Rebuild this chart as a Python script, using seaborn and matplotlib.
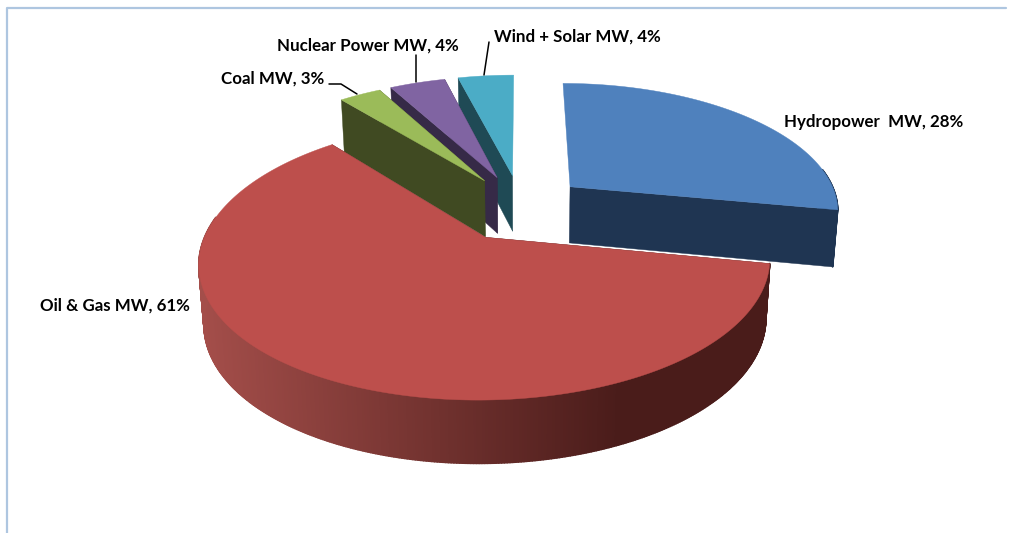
import numpy as np
import matplotlib.pyplot as plt
import seaborn as sns
from matplotlib.collections import PolyCollection
from matplotlib.colors import to_rgb

# chart values
sources = ["Hydropower  MW", "Oil & Gas MW", "Coal MW", "Nuclear Power MW", "Wind + Solar MW"]
shares = [28, 61, 3, 4, 4]
top_colors = ["#4f81bd", "#bd4f4c", "#9bbb59", "#8064a2", "#4bacc6"]
wall_colors = ["#1f3552", "#4c1d1b", "#404a22", "#362a47", "#1f4a55"]

sns.set_theme(style="white")
plt.rcParams["font.family"] = ["Lato", "DejaVu Sans"]

# projection of the pie plane, in pixels of the picture
CX, CY = 520.5, 207.5
RX, RY = 270, 126
PERSP_X, PERSP_Y = 0.17, 0.16
DEPTH = 57
EXPLODE_X, EXPLODE_Y = 0.245, 0.265

# radial walls that turn away from the viewer: (slice, edge)
hidden_walls = {(0, 0), (4, -1)}


def project(x, y, z=0.0):
    # y is towards the viewer, z is 0 on the top face and 1 at the bottom
    px = CX + RX * x / (1 - PERSP_X * y)
    py = CY + RY * y / (1 - PERSP_Y * y)
    px = CX + (px - CX) * (1 - 0.016 * z)
    py = py + DEPTH * z * (1 + 0.09 * y)
    return px, py


def red_shade(px):
    # the front wall of the big slice fades from left to right
    t = np.clip((px - 200) / 420, 0, 1)
    left = np.array(to_rgb("#a44e4a"))
    right = np.array(to_rgb("#4a1c1a"))
    return tuple(left + (right - left) * t)


fig = plt.figure(figsize=(10.17, 5.33), dpi=100)
ax = fig.add_axes([0, 0, 1, 1])
ax.set_xlim(0, 1017)
ax.set_ylim(533, 0)
ax.axis("off")

# chart area border
ax.plot([7, 7, 1006], [533, 7.5, 7.5], color="#aec6e0", lw=1.6, zorder=0)

# slice angles come from the shares, clockwise from 12 o'clock
edges = 90 - np.cumsum([0] + shares) * 3.6
draw_order = [4, 3, 2, 0, 1]

for z, i in enumerate(draw_order):
    a0, a1 = np.radians(edges[i]), np.radians(edges[i + 1])
    mid = (a0 + a1) / 2
    ox, oy = EXPLODE_X * np.cos(mid), -EXPLODE_Y * np.sin(mid)
    t = np.linspace(a0, a1, max(int(abs(a1 - a0) * 120), 8))
    rim_x = ox + np.cos(t)
    rim_y = oy - np.sin(t)

    # radial walls
    for k in (0, -1):
        if (i, k) in hidden_walls:
            continue
        xs = [ox, rim_x[k], rim_x[k], ox]
        ys = [oy, rim_y[k], rim_y[k], oy]
        zs = [0, 0, 1, 1]
        px, py = project(np.array(xs), np.array(ys), np.array(zs))
        ax.fill(px, py, color=wall_colors[i], lw=0.3, zorder=2 + z * 3)

    # outer wall, in thin strips so it can carry the gradient
    tx, ty = project(rim_x, rim_y, 0)
    bx, by = project(rim_x, rim_y, 1)
    quads = []
    cols = []
    for k in range(len(t) - 1):
        if np.sin(t[k]) > 0.15:
            continue  # back of the rim, hidden by the top face
        quads.append([(tx[k], ty[k]), (tx[k + 1], ty[k + 1]), (bx[k + 1], by[k + 1]), (bx[k], by[k])])
        cols.append(red_shade(tx[k]) if i == 1 else to_rgb(wall_colors[i]))
    if quads:
        ax.add_collection(PolyCollection(quads, facecolors=cols, edgecolors=cols, linewidths=1.2, zorder=3 + z * 3))

    # top face
    px, py = project(np.r_[ox, rim_x], np.r_[oy, rim_y], 0)
    ax.fill(px, py, color=top_colors[i], lw=0.3, zorder=4 + z * 3)

# leader lines
ax.plot([329, 341, 357], [84, 84, 94], color="black", lw=1.1, zorder=30)
ax.plot([416, 416], [55, 82], color="black", lw=1.1, zorder=30)
ax.plot([489, 484], [42, 75], color="black", lw=1.1, zorder=30)

# data labels
label_pos = [(784, 122, "left"), (190, 306, "right"), (324, 79, "right"), (459, 46, "right"), (494, 36.5, "left")]
for name, share, (lx, ly, ha) in zip(sources, shares, label_pos):
    ax.text(lx, ly, f"{name}, {share}%", ha=ha, va="center", fontsize=12.2,
            fontweight="bold", color="black", zorder=31)

plt.savefig("out.png", dpi=100)
